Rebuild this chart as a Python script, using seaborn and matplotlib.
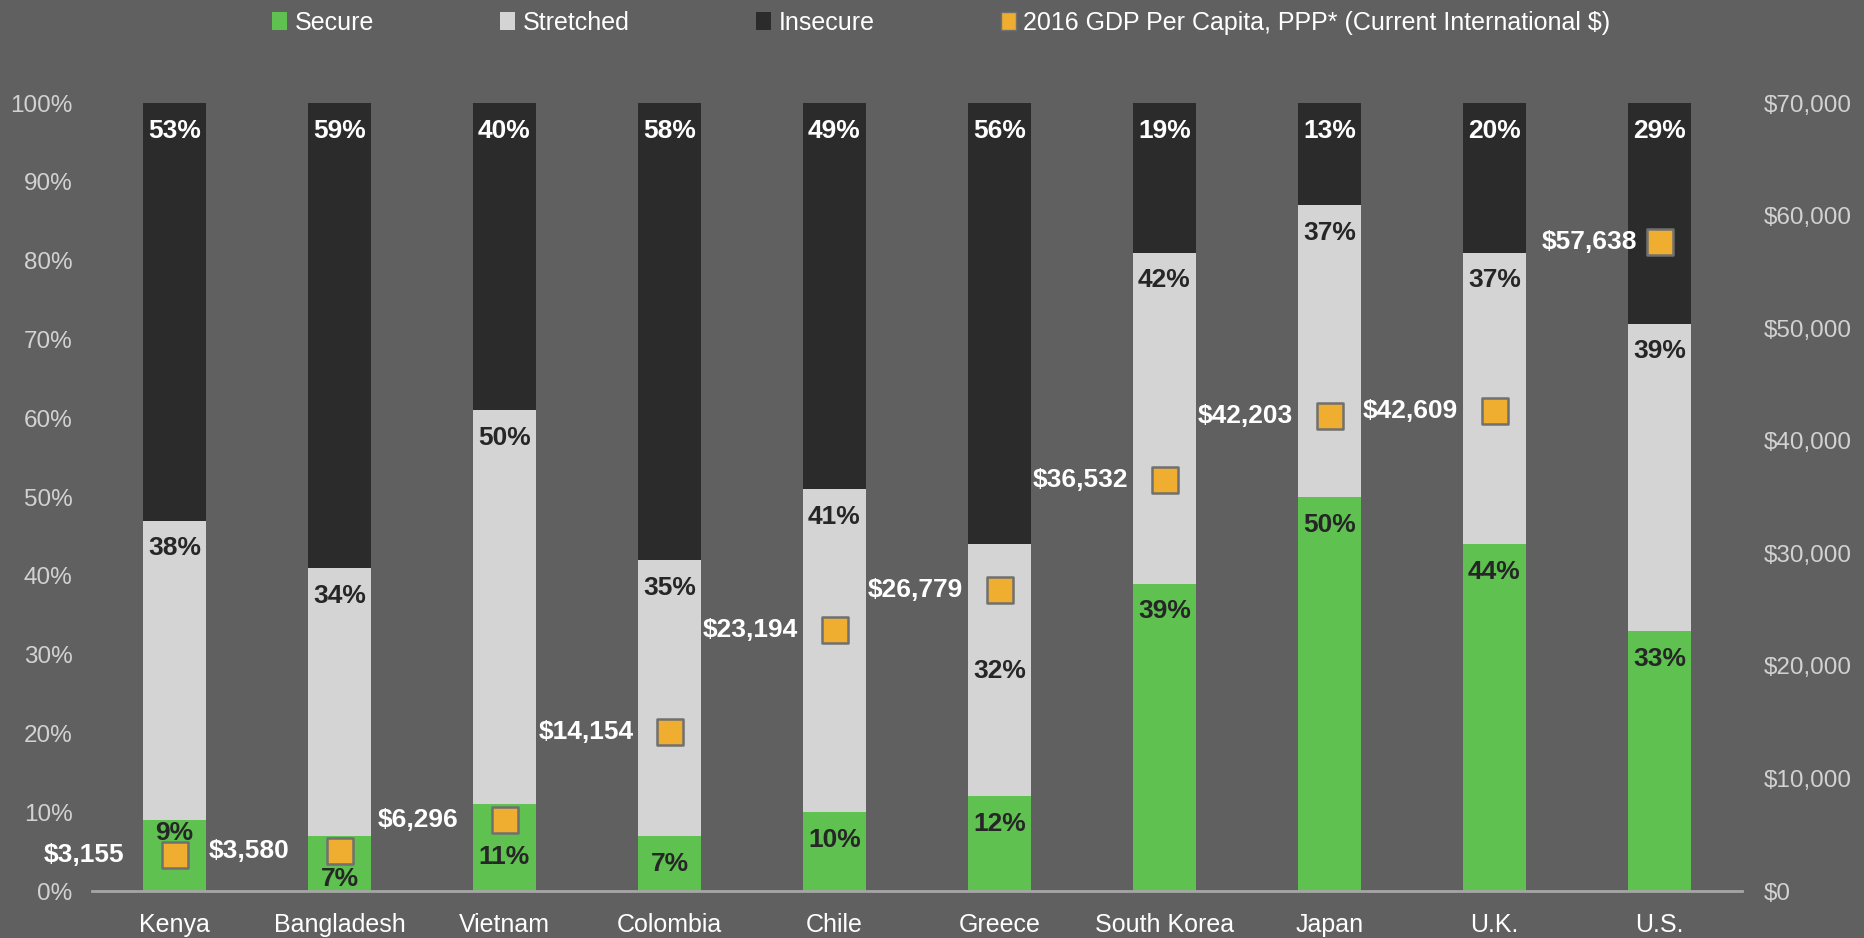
import numpy as np
import pandas as pd
import matplotlib
matplotlib.use('Agg')
import matplotlib.pyplot as plt
import seaborn as sns
from matplotlib.patches import Patch

# Chart values
countries = ['Kenya', 'Bangladesh', 'Vietnam', 'Colombia', 'Chile', 'Greece',
             'South Korea', 'Japan', 'U.K.', 'U.S.']
secure = [9, 7, 11, 7, 10, 12, 39, 50, 44, 33]
stretched = [38, 34, 50, 35, 41, 32, 42, 37, 37, 39]
insecure = [53, 59, 40, 58, 49, 56, 19, 13, 20, 29]
gdp = [3155, 3580, 6296, 14154, 23194, 26779, 36532, 42203, 42609, 57638]
gdp_label = '2016 GDP Per Capita, PPP* (Current International $)'

# colours
bg = '#606060'
green = '#5EC150'
light = '#D4D4D4'
dark = '#2B2B2B'
orange = '#EFAE2F'
edge = '#707070'
tick_grey = '#D2D2D2'
text_dark = '#262626'

sns.set_theme(style='white')
plt.rcParams['font.family'] = ['Liberation Sans', 'DejaVu Sans']

df = pd.DataFrame({'country': countries, 'secure': secure,
                   'stretched': stretched, 'insecure': insecure, 'gdp': gdp})
df['pos'] = np.arange(len(df))
# cumulative tops so that overlapping bars look stacked
df['top_stretched'] = df['secure'] + df['stretched']
df['top_insecure'] = df['top_stretched'] + df['insecure']

fig = plt.figure(figsize=(18.64, 9.38), dpi=100, facecolor=bg)
ax = fig.add_axes([92 / 1864, 1 - 891 / 938, 1650 / 1864, 788 / 938])
ax.set_facecolor(bg)

for col, c in [('top_insecure', dark), ('top_stretched', light), ('secure', green)]:
    sns.barplot(data=df, x='country', y=col, color=c, saturation=1, width=0.38,
                linewidth=0, errorbar=None, ax=ax)

ax.set_xlim(-0.5, len(countries) - 0.5)
ax.set_ylim(0, 100)
ax.set_yticks(range(0, 101, 10))
ax.set_yticklabels([f'{v}%' for v in range(0, 101, 10)])
ax.set_xlabel('')
ax.set_ylabel('')
ax.tick_params(axis='y', length=0, pad=14, labelsize=17.5, colors=tick_grey)
ax.tick_params(axis='x', length=0, pad=15.5, labelsize=18, colors='white')
for s in ['top', 'left', 'right']:
    ax.spines[s].set_visible(False)
ax.spines['bottom'].set_color('#A6A6A6')
ax.spines['bottom'].set_linewidth(2)

# some labels were nudged in the original to dodge the markers
sec_off = {'Kenya': -9, 'Bangladesh': -31, 'Vietnam': -38}
str_off = {'Greece': -91}
for i, r in df.iterrows():
    ax.annotate(f"{r['insecure']}%", (r['pos'], 100), xytext=(0, -20),
                textcoords='offset points', ha='center', va='center',
                color='white', fontsize=19, fontweight='bold')
    ax.annotate(f"{r['stretched']}%", (r['pos'], r['top_stretched']),
                xytext=(0, str_off.get(r['country'], -20)),
                textcoords='offset points', ha='center', va='center',
                color=text_dark, fontsize=19, fontweight='bold')
    ax.annotate(f"{r['secure']}%", (r['pos'], r['secure']),
                xytext=(0, sec_off.get(r['country'], -20)),
                textcoords='offset points', ha='center', va='center',
                color=text_dark, fontsize=19, fontweight='bold')

# GDP on the right axis
ax2 = ax.twinx()
ax2.set_facecolor('none')
sns.scatterplot(data=df, x='pos', y='gdp', marker='s', s=330, color=orange,
                edgecolor=edge, linewidth=1.8, ax=ax2, zorder=5, legend=False)
ax2.set_xlim(-0.5, len(countries) - 0.5)
ax2.set_ylim(0, 70000)
ax2.set_yticks(range(0, 70001, 10000))
ax2.set_yticklabels([f'${v:,}' for v in range(0, 70001, 10000)])
ax2.set_ylabel('')
ax2.tick_params(axis='y', length=0, pad=16, labelsize=17.5, colors=tick_grey)
for s in ax2.spines.values():
    s.set_visible(False)

gdp_off = {'Kenya': -36, 'Bangladesh': -36, 'Vietnam': -33, 'U.S.': -16}
for i, r in df.iterrows():
    ax2.annotate(f"${r['gdp']:,}", (r['pos'], r['gdp']),
                 xytext=(gdp_off.get(r['country'], -26), 0),
                 textcoords='offset points', ha='right', va='center',
                 color='white', fontsize=19, fontweight='bold')

handles = [Patch(facecolor=green, edgecolor='none', label='Secure'),
           Patch(facecolor=light, edgecolor='none', label='Stretched'),
           Patch(facecolor=dark, edgecolor='none', label='Insecure'),
           Patch(facecolor=orange, edgecolor=edge, linewidth=1, label=gdp_label)]
fig.legend(handles=handles, loc='center', bbox_to_anchor=(0.505, 0.976), ncol=4,
           frameon=False, fontsize=18, labelcolor='white', handlelength=0.6,
           handleheight=0.7, handletextpad=0.3, columnspacing=5.05)

fig.savefig('out.png', dpi=100, facecolor=bg)
